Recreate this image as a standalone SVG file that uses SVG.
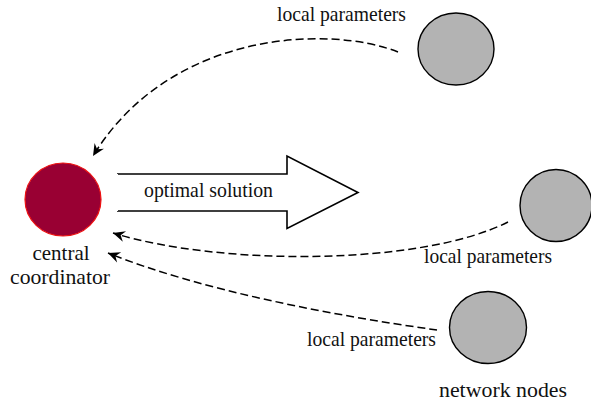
<svg xmlns="http://www.w3.org/2000/svg" width="591" height="403" viewBox="0 0 591 403">
  <style>
    .label { font-family: "Liberation Serif", "Times New Roman", serif; font-size: 21px; fill: #111; }
    .node { fill: #b3b3b3; stroke: #000; stroke-width: 1.4; }
    .coord { fill: #990033; stroke: #ee1111; stroke-width: 1.2; }
    .flow { fill: none; stroke: #000; stroke-width: 1.5; stroke-dasharray: 8 4; }
    .big { fill: #fff; stroke: #000; stroke-width: 1.6; stroke-linejoin: miter; }
  </style>
  <defs>
    <marker id="head" markerUnits="userSpaceOnUse" markerWidth="16" markerHeight="14" viewBox="-13 -7 15 14" refX="0" refY="0" orient="auto">
      <path d="M0,0 L-12,-5.5 L-8,0 L-12,5.5 Z" fill="#000"/>
    </marker>
  </defs>

  <!-- central coordinator -->
  <g id="coordinator">
    <ellipse class="coord" cx="63" cy="199.5" rx="38" ry="36.5"/>
    <text class="label" x="61" y="260" text-anchor="middle" textLength="57" lengthAdjust="spacingAndGlyphs">central</text>
    <text class="label" x="60" y="284" text-anchor="middle" textLength="100" lengthAdjust="spacingAndGlyphs">coordinator</text>
  </g>

  <!-- network nodes -->
  <g id="node-top">
    <ellipse class="node" cx="456" cy="49" rx="38" ry="36"/>
  </g>
  <g id="node-middle">
    <ellipse class="node" cx="556" cy="205.5" rx="36" ry="36"/>
  </g>
  <g id="node-bottom">
    <ellipse class="node" cx="488" cy="327.5" rx="38.5" ry="36"/>
    <text class="label" x="439" y="397" textLength="128" lengthAdjust="spacingAndGlyphs">network nodes</text>
  </g>

  <!-- broadcast of the solution -->
  <g id="solution">
    <path class="big" d="M117,174 L287,174 L287,156 L358,192.5 L287,228.5 L287,211 L117,211"/>
    <path d="M117,174 L117,211" stroke="#fff" stroke-width="2"/>
    <text class="label" x="144" y="197" textLength="129" lengthAdjust="spacingAndGlyphs">optimal solution</text>
  </g>

  <!-- parameter uploads -->
  <g id="connectors">
    <path class="flow" d="M398,52 C330,25 170,30 93,156" marker-end="url(#head)"/>
    <path class="flow" d="M508,222 C420,266 220,266 113,233" marker-end="url(#head)"/>
    <path class="flow" d="M437,330 C330,315 200,290 108,253" marker-end="url(#head)"/>
    <text class="label" x="277" y="21" textLength="129" lengthAdjust="spacingAndGlyphs">local parameters</text>
    <text class="label" x="424" y="263" textLength="128" lengthAdjust="spacingAndGlyphs">local parameters</text>
    <text class="label" x="307" y="346" textLength="129" lengthAdjust="spacingAndGlyphs">local parameters</text>
  </g>
</svg>
